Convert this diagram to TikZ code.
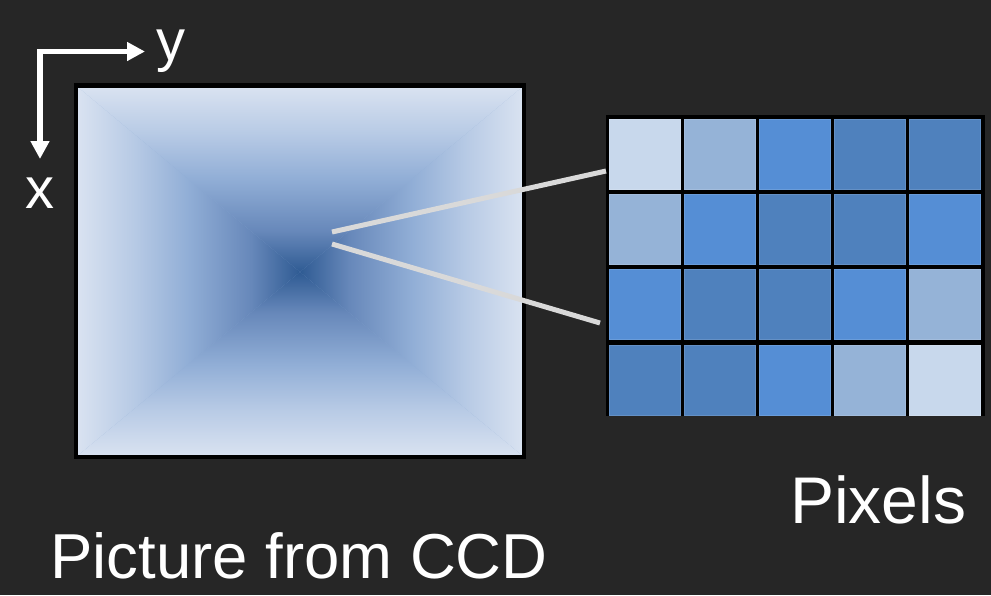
\documentclass[tikz,border=0pt]{standalone}
\usepackage{fontspec}
\setmainfont{Liberation Sans}
\usetikzlibrary{arrows.meta}
\definecolor{bg}{HTML}{262626}
\definecolor{ccdA}{HTML}{DAE3F1}
\definecolor{ccdB}{HTML}{B7CAE5}
\definecolor{ccdC}{HTML}{91AED6}
\definecolor{ccdD}{HTML}{6788BA}
\definecolor{ccdE}{HTML}{2F5B93}
\definecolor{pxL}{HTML}{C8D8EC}
\definecolor{pxM}{HTML}{95B3D7}
\definecolor{pxB}{HTML}{558ED5}
\definecolor{pxD}{HTML}{4F81BD}
\definecolor{connc}{HTML}{D9D9D9}
\pgfdeclarehorizontalshading{ccdshade}{100bp}{color(0bp)=(ccdA); color(25bp)=(ccdA); color(38bp)=(ccdB); color(50bp)=(ccdC); color(64bp)=(ccdD); color(75bp)=(ccdE); color(100bp)=(ccdE)}
\tikzset{
  axisline/.style={draw=white, line width=5.5pt, line join=miter, {Triangle[length=18pt,width=18pt]}-{Triangle[length=18pt,width=18pt]}},
  axislabel/.style={text=white, inner sep=0pt, font=\fontsize{58}{58}\selectfont},
  biglabel/.style={text=white, inner sep=0pt, anchor=base west, font=\fontsize{63.5}{63.5}\selectfont},
  conn/.style={draw=connc, line width=5pt},
  cell/.style={rectangle, inner sep=0pt, minimum width=71pt, minimum height=70pt, line width=0.8pt},
  frame/.style={rectangle, draw=black, line width=4.5pt, inner sep=0pt}
}
\begin{document}
\begin{tikzpicture}[x=1pt,y=-1pt]
\fill[bg] (0,0) rectangle (991,595);
\useasboundingbox (0,0) rectangle (991,595);
% CCD picture
\coordinate (TL) at (76,85.5);
\coordinate (TR) at (524,85.5);
\coordinate (BR) at (524,457);
\coordinate (BL) at (76,457);
\coordinate (C) at (300,272);
\fill[ccdC] (TL) rectangle (BR);
\shade[shading=ccdshade, shading angle=0] (TL) -- (C) -- (BL) -- cycle;
\shade[shading=ccdshade, shading angle=180] (TR) -- (C) -- (BR) -- cycle;
\shade[shading=ccdshade, shading angle=-90] (TL) -- (C) -- (TR) -- cycle;
\shade[shading=ccdshade, shading angle=90] (BL) -- (C) -- (BR) -- cycle;
\node[frame, minimum width=448pt, minimum height=371.5pt] (ccd) at (300,271.25) {};
% axes
\coordinate (xtip) at (40,159);
\coordinate (ytip) at (145,51.5);
\draw[axisline] (xtip) |- (ytip);
\node[axislabel, anchor=base west] (ylab) at (156,60) {y};
\node[axislabel, anchor=base] (xlab) at (40,208) {x};
% pixel grid
\node[rectangle, fill=black, inner sep=0pt, minimum width=379pt, minimum height=301pt] (grid) at (795.5,265.5) {};
\foreach \row [count=\j from 0] in {{L,M,B,D,D},{M,B,D,D,B},{B,D,D,B,M},{D,D,B,M,L}} {
  \foreach \c [count=\i from 0] in \row {
    \node[cell, fill=px\c, draw=px\c!88!white] (c\j\i) at ({644.5+75*\i},{154+75.3*\j}) {};
  }
}
% connectors
\coordinate (a1) at (332,232);
\coordinate (a2) at (332,244);
\coordinate (b1) at (606,171);
\coordinate (b2) at (600,323);
\draw[conn] (a1) -- (b1);
\draw[conn] (a2) -- (b2);
% labels
\node[biglabel] (pic) at (50,578) {Picture from CCD};
\node[biglabel, font=\fontsize{66}{66}\selectfont] (pix) at (790,523) {Pixels};
\end{tikzpicture}
\end{document}
